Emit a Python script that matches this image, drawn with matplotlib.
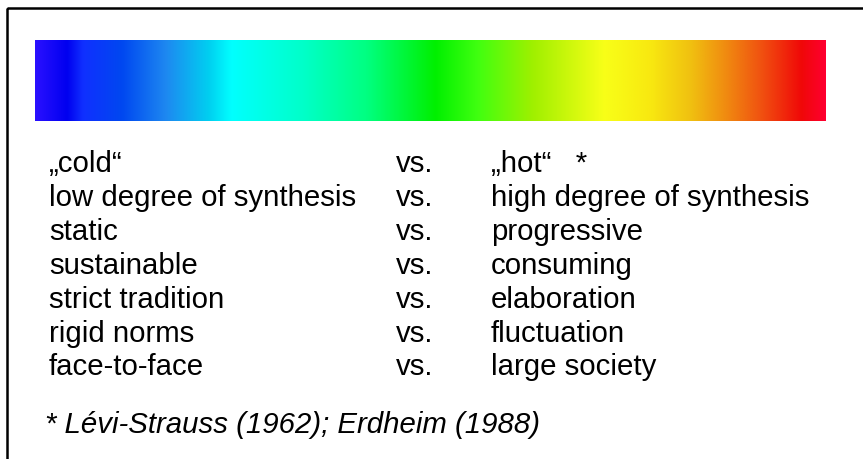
import numpy as np
import matplotlib
matplotlib.use("Agg")
import matplotlib.pyplot as plt
from matplotlib.colors import LinearSegmentedColormap
from matplotlib.patches import Rectangle

# ---- data ----
left_terms = ["\u201ecold\u201c", "low degree of synthesis", "static", "sustainable",
              "strict tradition", "rigid norms", "face-to-face"]
right_terms = ["\u201ehot\u201c   *", "high degree of synthesis", "progressive", "consuming",
               "elaboration", "fluctuation", "large society"]
separator = "vs."
footnote = "* L\u00e9vi-Strauss (1962); Erdheim (1988)"

# spectrum colour stops (fraction along bar, colour)
stop_pos = [0.00, 0.04, 0.06, 0.11, 0.165, 0.22, 0.248, 0.34, 0.42, 0.506, 0.56, 0.63,
            0.72, 0.78, 0.83, 0.87, 0.92, 0.97, 1.00]
stop_col = ["#2a10ff", "#0000f0", "#1030ff", "#0048f0", "#1e88f0", "#00d0f0", "#00ffff",
            "#00ffc8", "#00ff80", "#00f000", "#40ff10", "#a0f000", "#f8ff18", "#f8e810",
            "#f0c010", "#f09010", "#f05010", "#f00808", "#ff0030"]

W, H = 863, 459
fig = plt.figure(figsize=(W / 100, H / 100), dpi=100)
ax = fig.add_axes([0, 0, 1, 1])
ax.set_xlim(0, W)
ax.set_ylim(H, 0)
ax.axis("off")

# frame (cut off at right/bottom like the reference)
ax.add_patch(Rectangle((6.5, 7.5), W + 20, H + 20, fill=False, edgecolor="black", lw=1.8))

# spectrum bar
cmap = LinearSegmentedColormap.from_list("spec", list(zip(stop_pos, stop_col)), N=512)
grad = np.linspace(0, 1, 512)[None, :]
ax.imshow(grad, cmap=cmap, aspect="auto", extent=(35, 825, 121, 40), interpolation="bilinear")

fam = ["Liberation Sans", "DejaVu Sans"]
fs = 21.2
x_left, x_vs, x_right = 49, 396, 491
y0, dy = 172, 33.9
for i, (l, r) in enumerate(zip(left_terms, right_terms)):
    y = y0 + i * dy
    ax.text(x_left, y, l, fontsize=fs, family=fam, va="baseline", ha="left")
    ax.text(x_vs, y, separator, fontsize=fs, family=fam, va="baseline", ha="left")
    ax.text(x_right, y, r, fontsize=fs, family=fam, va="baseline", ha="left")

ax.text(45, 433, footnote, fontsize=fs, family=fam, style="italic", va="baseline", ha="left")

fig.savefig("out.png", dpi=100)
